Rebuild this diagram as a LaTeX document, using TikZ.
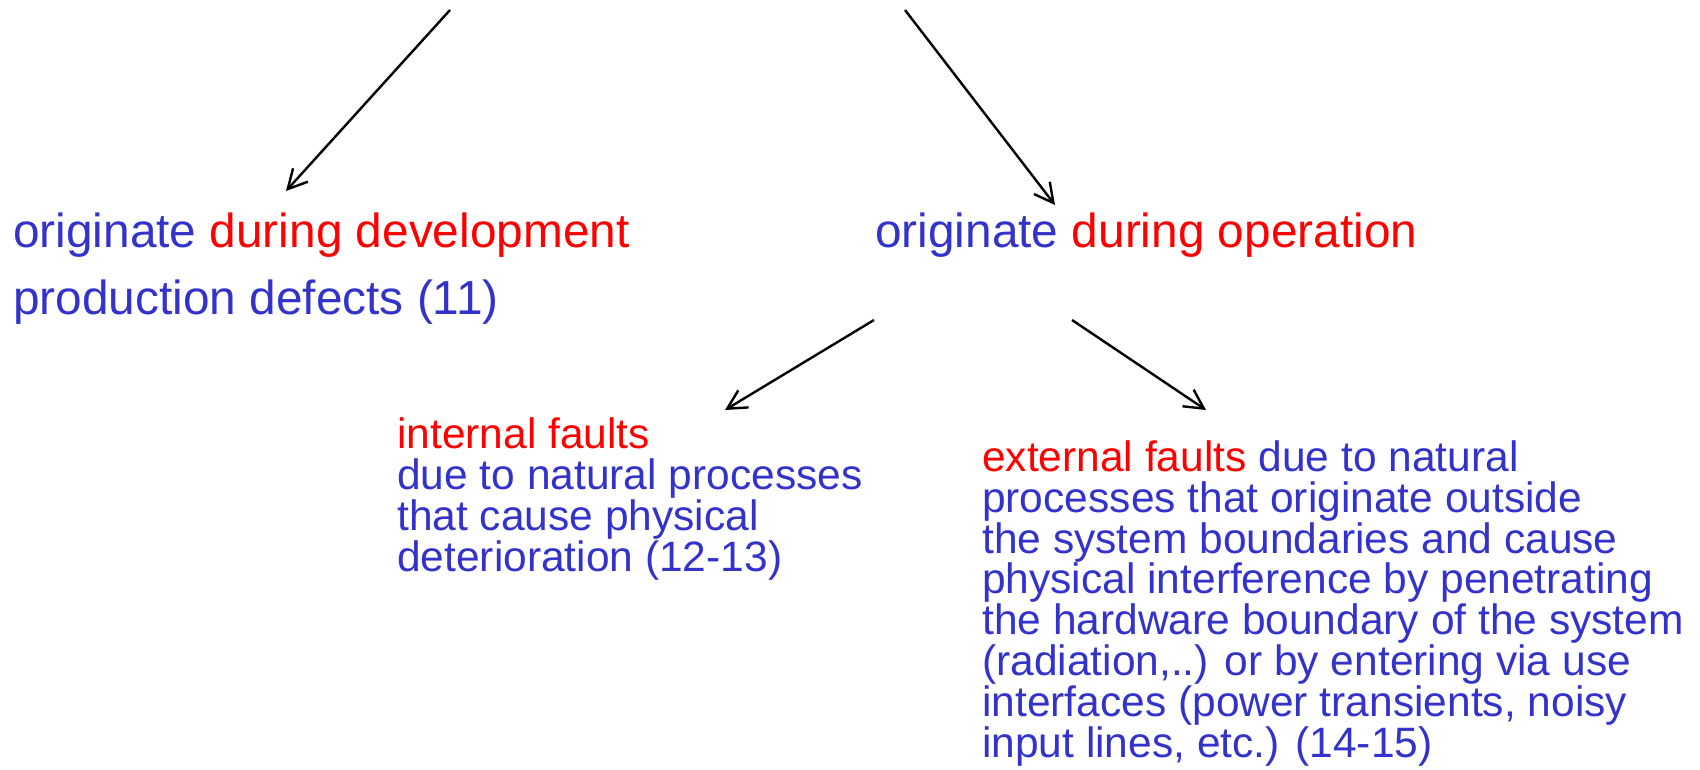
\documentclass[tikz,border=0pt]{standalone}
\usepackage{fontspec}
\setmainfont{Liberation Sans}
\usetikzlibrary{arrows.meta}
\definecolor{txtblue}{RGB}{51,51,204}
\definecolor{txtred}{RGB}{255,0,0}
\begin{document}
\begin{tikzpicture}[x=1pt,y=-1pt,
  % multi-line texts are placed by the baseline of their last line
  bigtext/.style={anchor=base west,inner sep=0pt,align=left,text=txtblue,
    font=\fontsize{47.8}{67}\selectfont},
  smalltext/.style={anchor=base west,inner sep=0pt,align=left,text=txtblue,
    font=\fontsize{42.5}{40.8}\selectfont},
  link/.style={draw=black,line width=2.4pt,
    -{Straight Barb[length=19pt,width=20pt,line width=2.4pt]}}]
\useasboundingbox (0,0) rectangle (1700,769);

% first level
\node[bigtext] (dev) at (13,314)
  {originate \textcolor{txtred}{during development}\\production defects (11)};
\node[bigtext] (op) at (875,247)
  {originate \textcolor{txtred}{during operation}};

% second level
\node[smalltext] (int) at (397,571)
  {\textcolor{txtred}{internal faults}\\due to natural processes\\that cause physical\\deterioration (12-13)};
\node[smalltext] (ext) at (982,757)
  {\textcolor{txtred}{external faults} due to natural\\processes that originate outside\\the system boundaries and cause\\physical interference by penetrating\\the hardware boundary of the system\\(radiation,..) or by entering via use\\interfaces (power transients, noisy\\input lines, etc.) (14-15)};

% connector end points
\coordinate (topL) at (450,10);
\coordinate (topR) at (905,10);
\coordinate (devIn) at (286,191);
\coordinate (opIn) at (1055,205);
\coordinate (opOutL) at (874,320);
\coordinate (opOutR) at (1072,320);
\coordinate (intIn) at (725,410);
\coordinate (extIn) at (1206,410);

\draw[link] (topL) -- (devIn);
\draw[link] (topR) -- (opIn);
\draw[link] (opOutL) -- (intIn);
\draw[link] (opOutR) -- (extIn);
\end{tikzpicture}
\end{document}
